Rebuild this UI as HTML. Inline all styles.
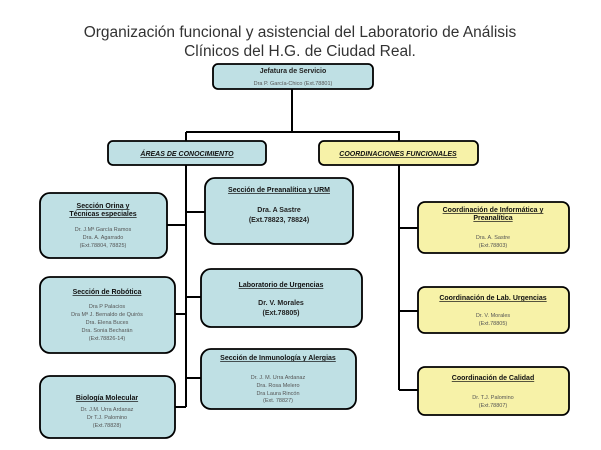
<!DOCTYPE html>
<html><head><meta charset="utf-8"><style>
html,body{margin:0;padding:0;background:#fff;width:601px;height:450px;overflow:hidden}
svg{display:block}
text{font-family:"Liberation Sans",sans-serif}
.t{font-weight:bold;font-size:7px;text-decoration:underline;fill:#111}
.s{font-size:5.5px;fill:#555}
.b{font-weight:bold;font-size:7px;fill:#222}
</style></head><body>
<svg width="601" height="450" viewBox="0 0 601 450">
<text x="300" y="37" text-anchor="middle" font-size="15.5" fill="#333">Organización funcional y asistencial del Laboratorio de Análisis</text>
<text x="300" y="56" text-anchor="middle" font-size="15.5" fill="#333">Clínicos del H.G. de Ciudad Real.</text>
<g stroke="#000" stroke-width="2" fill="none">
<path d="M292 89V132M186 132H399V141M186 132V141"/>
<path d="M186 165V407M167 225H186M175 314H186M175 407H186M186 212H205M186 297H201M186 378H201"/>
<path d="M399 165V390M399 228H418M399 311H418M399 390H418"/>
</g>
<g stroke="#000" stroke-width="1.8">
<rect x="213" y="64" width="160" height="25" rx="5" fill="#bfe0e4"/>
<rect x="108" y="141" width="158" height="24" rx="5" fill="#bfe0e4"/>
<rect x="319" y="141" width="159" height="24" rx="5" fill="#f7f2a8"/>
<rect x="40" y="193" width="127" height="65" rx="10" fill="#bfe0e4"/>
<rect x="40" y="277" width="135" height="76" rx="10" fill="#bfe0e4"/>
<rect x="40" y="376" width="135" height="62" rx="10" fill="#bfe0e4"/>
<rect x="205" y="178" width="148" height="66" rx="10" fill="#bfe0e4"/>
<rect x="201" y="269" width="161" height="58" rx="10" fill="#bfe0e4"/>
<rect x="201" y="349" width="155" height="60" rx="10" fill="#bfe0e4"/>
<rect x="418" y="202" width="151" height="51" rx="7" fill="#f7f2a8"/>
<rect x="418" y="287" width="151" height="46" rx="7" fill="#f7f2a8"/>
<rect x="418" y="367" width="151" height="48" rx="7" fill="#f7f2a8"/>
</g>
<g text-anchor="middle">
<text x="293" y="73" class="b" font-size="6.5">Jefatura de Servicio</text>
<text x="293" y="85" class="s">Dra P. García-Chico (Ext.78801)</text>
<text x="187" y="156" class="t" font-style="italic">ÁREAS DE CONOCIMIENTO</text>
<text x="398" y="156" class="t" font-style="italic">COORDINACIONES FUNCIONALES</text>
<text x="103" y="208" class="t">Sección Orina y</text>
<text x="103" y="216" class="t">Técnicas especiales</text>
<text x="103" y="231" class="s">Dr. J.Mª García Ramos</text>
<text x="103" y="239" class="s">Dra. A. Agarrado</text>
<text x="103" y="247" class="s">(Ext.78804, 78825)</text>
<text x="107" y="294" class="t">Sección de Robótica</text>
<text x="107" y="308" class="s">Dra P Palacios</text>
<text x="107" y="316" class="s">Dra Mª J. Bernaldo de Quirós</text>
<text x="107" y="324" class="s">Dra. Elena Buces</text>
<text x="107" y="332" class="s">Dra. Sonia Becharán</text>
<text x="107" y="340" class="s">(Ext.78826-14)</text>
<text x="107" y="400" class="t">Biología Molecular</text>
<text x="107" y="411" class="s">Dr. J.M. Urra Ardanaz</text>
<text x="107" y="419" class="s">Dr T.J. Palomino</text>
<text x="107" y="427" class="s">(Ext.78828)</text>
<text x="279" y="192" class="t">Sección de Preanalítica y URM</text>
<text x="279" y="212" class="b">Dra. A Sastre</text>
<text x="279" y="222" class="b">(Ext.78823, 78824)</text>
<text x="281" y="287" class="t">Laboratorio de Urgencias</text>
<text x="281" y="305" class="b">Dr. V. Morales</text>
<text x="281" y="315" class="b">(Ext.78805)</text>
<text x="278" y="360" class="t">Sección de Inmunología y Alergias</text>
<text x="278" y="379" class="s">Dr. J. M. Urra Ardanaz</text>
<text x="278" y="387" class="s">Dra. Rosa Melero</text>
<text x="278" y="395" class="s">Dra Laura Rincón</text>
<text x="278" y="402" class="s">(Ext. 78827)</text>
<text x="493" y="212" class="t">Coordinación de Informática y</text>
<text x="493" y="220" class="t">Preanalítica</text>
<text x="493" y="239" class="s">Dra. A. Sastre</text>
<text x="493" y="247" class="s">(Ext.78803)</text>
<text x="493" y="300" class="t">Coordinación de Lab. Urgencias</text>
<text x="493" y="317" class="s">Dr. V. Morales</text>
<text x="493" y="325" class="s">(Ext.78805)</text>
<text x="493" y="380" class="t">Coordinación de Calidad</text>
<text x="493" y="399" class="s">Dr. T.J. Palomino</text>
<text x="493" y="407" class="s">(Ext.78807)</text>
</g>
</svg>
</body></html>
